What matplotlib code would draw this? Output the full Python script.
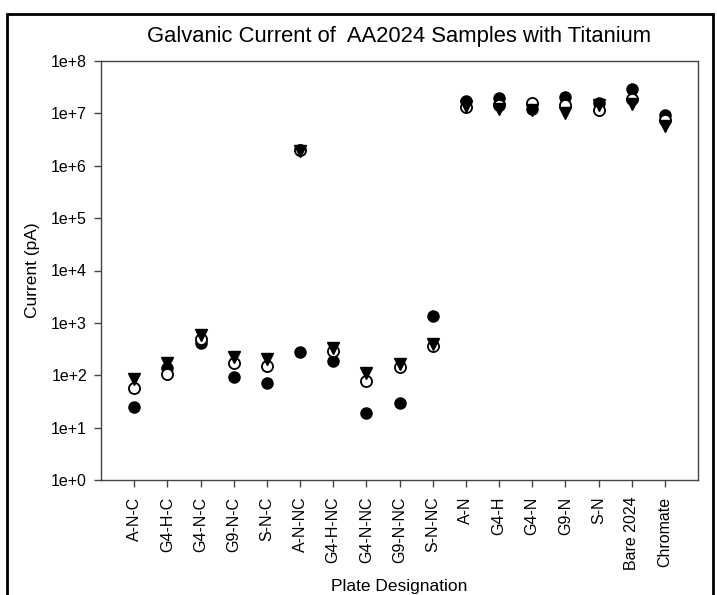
import matplotlib.pyplot as plt
from matplotlib.patches import Rectangle
from matplotlib.ticker import FixedLocator, NullLocator

plt.rcParams['font.family'] = ['Liberation Sans', 'DejaVu Sans']

# Plate designations along the x axis
plates = ['A-N-C', 'G4-H-C', 'G4-N-C', 'G9-N-C', 'S-N-C',
          'A-N-NC', 'G4-H-NC', 'G4-N-NC', 'G9-N-NC', 'S-N-NC',
          'A-N', 'G4-H', 'G4-N', 'G9-N', 'S-N', 'Bare 2024', 'Chromate']

# Current readings (pA), three runs per plate
run1 = [25, 138, 415, 93, 71,
        275, 187, 19, 29.6, 1350,
        1.7e7, 1.95e7, 1.2e7, 2.04e7, 1.56e7, 2.9e7, 9.3e6]
run2 = [57, 105, 500, 170, 150,
        2.0e6, 290, 78, 144, 360,
        1.3e7, 1.45e7, 1.56e7, 1.45e7, 1.15e7, 1.87e7, 7.4e6]
run3 = [85, 170, 590, 225, 205,
        1.9e6, 330, 110, 163, 395,
        1.37e7, 1.2e7, 1.15e7, 1.0e7, 1.45e7, 1.5e7, 5.7e6]

x = list(range(len(plates)))

fig = plt.figure(figsize=(7.17, 5.95), dpi=100)
ax = fig.add_axes([101 / 717, 1 - 480 / 595, 597 / 717, 419 / 595])

ax.plot(x, run1, 'o', color='black', markersize=8, linestyle='none')
ax.plot(x, run2, 'o', markerfacecolor='white', markeredgecolor='black',
        markeredgewidth=1.3, markersize=8, linestyle='none')
ax.plot(x, run3, 'v', color='black', markersize=8.5, linestyle='none')

ax.set_yscale('log')
ax.set_ylim(1, 1e8)
ax.set_xlim(-1, 17)
decades = [10.0 ** k for k in range(9)]
ax.yaxis.set_major_locator(FixedLocator(decades))
ax.yaxis.set_minor_locator(NullLocator())
ax.set_yticklabels([f'1e+{k}' for k in range(9)], fontsize=11.5)
ax.set_xticks(x)
ax.set_xticklabels(plates, rotation=90, fontsize=11.5)
ax.tick_params(direction='out', length=5, width=1, color='#444444')
ax.tick_params(axis='x', pad=7)
ax.tick_params(axis='y', pad=5)

for s in ax.spines.values():
    s.set_color('#444444')
    s.set_linewidth(1)

ax.set_title('Galvanic Current of  AA2024 Samples with Titanium', fontsize=15.8, pad=14)
ax.set_ylabel('Current (pA)', fontsize=12.5, labelpad=8)
ax.set_xlabel('Plate Designation', fontsize=12.5, labelpad=6)

# outer frame of the figure, running off the bottom
fig.patches.append(Rectangle((7 / 717, -0.1), 706 / 717, 1.1 - 14 / 595,
                             transform=fig.transFigure, fill=False,
                             edgecolor='black', linewidth=2))

fig.savefig('out.png', dpi=100)
